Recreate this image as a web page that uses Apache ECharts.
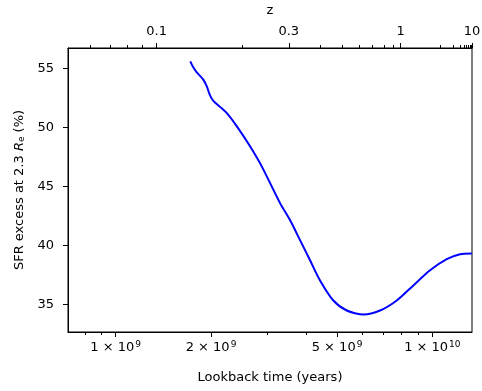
<!DOCTYPE html>
<html>
<head>
<meta charset="utf-8">
<script src="https://cdn.jsdelivr.net/npm/echarts@6/dist/echarts.min.js"></script>
<style>
  html, body { margin: 0; padding: 0; background: #fff; }
  #chart { width: 482px; height: 391px; }
</style>
</head>
<body>
<div id="chart"></div>
<script>
  // lookback time (years) and SFR excess (%)
  const lookback = [1.72e9, 1.758e9, 1.803e9, 1.846e9, 1.891e9, 1.938e9, 1.986e9, 2.034e9,
    2.136e9, 2.247e9, 2.411e9, 2.656e9, 2.892e9, 3.304e9, 3.552e9, 3.82e9, 4.109e9, 4.419e9,
    4.868e9, 5.366e9, 6.055e9, 6.835e9, 7.72e9, 8.71e9, 9.833e9, 1.11e10, 1.223e10, 1.332e10]
  const sfrExcess = [55.6, 55.09, 54.66, 54.37, 54.05, 53.49, 52.72, 52.25,
    51.74, 51.19, 50.11, 48.4, 46.7, 43.58, 42.15, 40.45, 38.74, 37.03,
    35.33, 34.48, 34.14, 34.48, 35.33, 36.61, 37.89, 38.83, 39.25, 39.31]

  // axis ranges
  const tMin = 7.07e8
  const tMax = 1.334e10
  const yMin = 32.66
  const yMax = 56.73

  // bottom axis ticks (years)
  const bottomMajor = [1e9, 2e9, 5e9, 1e10]
  const bottomLabels = ['{b|1 × 10}{s|9}', '{b|2 × 10}{s|9}', '{b|5 × 10}{s|9}', '{b|1 × 10}{s|10}']
  const bottomMinor = [8e8, 9e8, 3e9, 4e9, 6e9, 7e9, 8e9, 9e9]

  // top axis: redshift ticks placed at their lookback times (years)
  const zMajorT = [1.347e9, 3.52e9, 7.94e9, 1.333e10]
  const zLabels = ['0.1', '0.3', '1', '10']
  const zMinorT = [8.29e8, 9.59e8, 1.091e9, 1.217e9, 2.51e9, 4.41e9, 5.2e9, 5.88e9, 6.48e9,
    7.04e9, 7.53e9, 1.057e10, 1.165e10, 1.224e10, 1.26e10, 1.284e10, 1.302e10, 1.315e10, 1.325e10]

  const yTicks = [35, 40, 45, 50, 55]

  const font = 'DejaVu Sans'
  const lg = (v) => Math.log10(v)

  function pick(ticks, labels) {
    return (val) => {
      const i = ticks.findIndex(t => Math.abs(lg(t) - val) < 1e-6)
      return i >= 0 ? labels[i] : ''
    }
  }

  // value axes in log10 space, used only to draw ticks and labels
  const decoAxis = (pos, ticks, len, label) => ({
    type: 'value',
    position: pos,
    min: lg(tMin),
    max: lg(tMax),
    axisLine: { show: !!label, lineStyle: { color: '#000', width: 1 } },
    axisTick: {
      show: true,
      length: len,
      customValues: ticks.map(lg),
      lineStyle: { color: '#000', width: 1 }
    },
    axisLabel: label ? Object.assign({
      show: true,
      customValues: ticks.map(lg)
    }, label) : { show: false },
    splitLine: { show: false }
  })

  const chart = echarts.init(document.getElementById('chart'))
  chart.setOption({
    animation: false,
    textStyle: { fontFamily: font },
    grid: {
      left: 68, right: 10, top: 48, bottom: 59,
      outerBoundsMode: 'none',
      containLabel: false,
      show: true, borderColor: '#000', borderWidth: 1
    },
    xAxis: [
      {
        type: 'log',
        min: tMin,
        max: tMax,
        axisLine: { show: false },
        axisTick: { show: false },
        axisLabel: { show: false },
        splitLine: { show: false }
      },
      Object.assign(decoAxis('bottom', bottomMajor, 5, {
        margin: 8,
        formatter: pick(bottomMajor, bottomLabels),
        rich: {
          b: { fontSize: 13, fontFamily: font, color: '#000' },
          s: { fontSize: 9, fontFamily: font, color: '#000', verticalAlign: 'top', padding: [0, 0, 7, 1] }
        }
      }), {
        name: 'Lookback time (years)',
        nameLocation: 'middle',
        nameGap: 39,
        nameTextStyle: { fontSize: 13, color: '#000', fontFamily: font }
      }),
      decoAxis('bottom', bottomMinor, 3, null),
      Object.assign(decoAxis('top', zMajorT, 5, {
        margin: 10,
        fontSize: 13,
        color: '#000',
        formatter: pick(zMajorT, zLabels)
      }), {
        name: 'z',
        nameLocation: 'middle',
        nameGap: 31,
        nameTextStyle: { fontSize: 13, color: '#000', fontFamily: font }
      }),
      decoAxis('top', zMinorT, 3, null)
    ],
    yAxis: {
      type: 'value',
      min: yMin,
      max: yMax,
      name: 'SFR excess at 2.3 {i|R}{sub|e} (%)',
      nameLocation: 'middle',
      nameRotate: 90,
      nameGap: 40,
      nameTextStyle: {
        fontSize: 13,
        color: '#000',
        fontFamily: font,
        rich: {
          i: { fontSize: 13, fontStyle: 'italic', fontFamily: font, color: '#000' },
          sub: { fontSize: 9, fontFamily: font, color: '#000', verticalAlign: 'bottom', padding: [4, 0, 0, 0] }
        }
      },
      axisLine: { show: true, lineStyle: { color: '#000', width: 1 } },
      axisTick: { show: true, length: 5, customValues: yTicks, lineStyle: { color: '#000' } },
      axisLabel: { customValues: yTicks, fontSize: 13, color: '#000', margin: 14 },
      splitLine: { show: false }
    },
    series: [{
      type: 'line',
      xAxisIndex: 0,
      data: lookback.map((t, i) => [t, sfrExcess[i]]),
      smooth: 0.25,
      showSymbol: false,
      lineStyle: { color: '#0000ff', width: 2 }
    }]
  })
</script>
</body>
</html>
